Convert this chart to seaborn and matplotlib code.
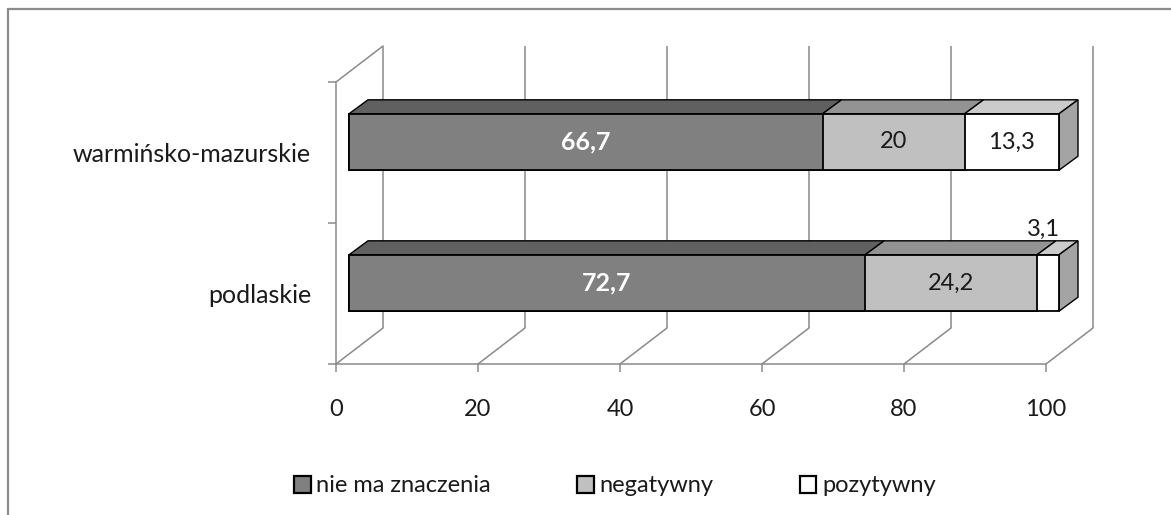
import matplotlib
matplotlib.use("Agg")
import matplotlib.pyplot as plt
import numpy as np
import pandas as pd
import seaborn as sns
from matplotlib.patches import Polygon, Patch
from matplotlib.lines import Line2D

# ---- data -------------------------------------------------------------
regions = ["warmińsko-mazurskie", "podlaskie"]
categories = ["nie ma znaczenia", "negatywny", "pozytywny"]
nie_ma_znaczenia = [66.7, 72.7]
negatywny = [20.0, 24.2]
pozytywny = [13.3, 3.1]
x_ticks = [0, 20, 40, 60, 80, 100]

# ---- style ------------------------------------------------------------
front_colors = ["#808080", "#c0c0c0", "#ffffff"]
top_colors = ["#606060", "#939393", "#cbcbcb"]
side_color = "#a4a4a4"
grid_color = "#8a8a8a"
text_color = "#1a1a1a"
FS_CAT = 18
FS_TICK = 17
FS_VAL = 17
FS_LEG = 17

W, H, DPI = 1171, 515, 100
sns.set_theme(style="white")
plt.rcParams["font.family"] = ["Lato", "DejaVu Sans"]

fig = plt.figure(figsize=(W / DPI, H / DPI), dpi=DPI)
# axes box = front edge of the floor / left wall (pixels)
L, R, T, B = 336, 1046, 82, 364
ax = fig.add_axes([L / W, 1 - B / H, (R - L) / W, (B - T) / H])

sx = (R - L) / 100.0      # px per x unit
sy = (B - T) / 2.0        # px per category band


def depth(px_right, px_up):
    """Pixel depth offset -> data offset (y axis is inverted)."""
    return px_right / sx, -px_up / sy


fx, fy = depth(13, 10.5)   # front face of bars
bx, by = depth(32, 24.5)   # back face of bars
wx, wy = depth(47, 36)     # back wall

df = pd.DataFrame({
    "region": regions,
    "nie ma znaczenia": nie_ma_znaczenia,
    "negatywny": negatywny,
    "pozytywny": pozytywny,
})
cum = df[categories].cumsum(axis=1)
df["c1"], df["c2"], df["c3"] = cum[categories[0]], cum[categories[1]], cum[categories[2]]

BAR_W = 0.40
for col, color in zip(["c3", "c2", "c1"], front_colors[::-1]):
    sns.barplot(data=df, x=col, y="region", order=regions, orient="h",
                color=color, saturation=1, width=BAR_W, edgecolor="black",
                linewidth=1.3, ax=ax, zorder=3)

# move front faces into the depth of the chart
for p in ax.patches:
    p.set_x(p.get_x() + fx)
    p.set_y(p.get_y() + fy)
    p.set_clip_on(False)

ax.set_xlim(0, 100)
ax.set_ylim(1.5, -0.5)

# top faces and end caps
for i, reg in enumerate(regions):
    starts = [0] + list(cum.iloc[i, :-1])
    ends = list(cum.iloc[i])
    yt = i - BAR_W / 2 + fy
    yb = i + BAR_W / 2 + fy
    for j in range(3):
        s, e = starts[j], ends[j]
        poly = Polygon([(s + fx, yt), (e + fx, yt), (e + bx, yt - fy + by),
                        (s + bx, yt - fy + by)], closed=True,
                       facecolor=top_colors[j], edgecolor="black",
                       linewidth=1.0, zorder=2.5, clip_on=False)
        ax.add_patch(poly)
    end = ends[-1]
    cap = Polygon([(end + fx, yt), (end + bx, yt - fy + by),
                   (end + bx, yb - fy + by), (end + fx, yb)], closed=True,
                  facecolor=side_color, edgecolor="black", linewidth=1.0,
                  zorder=2.5, clip_on=False)
    ax.add_patch(cap)

    # value labels
    for j in range(3):
        s, e = starts[j], ends[j]
        v = df[categories[j]].iloc[i]
        txt = ("%g" % v).replace(".", ",")
        cx = (s + e) / 2 + fx
        if j == 0:
            ax.text(cx, i + fy, txt, ha="center", va="center", color="white",
                    fontsize=FS_VAL + 1, fontweight="bold", zorder=5)
        elif e - s < 6:
            ax.annotate(txt, (cx, yt - fy + by), xytext=(-3, 1),
                        textcoords="offset points", ha="center", va="bottom",
                        fontsize=FS_VAL, color=text_color, zorder=5,
                        annotation_clip=False)
        else:
            ax.text(cx, i + fy, txt, ha="center", va="center",
                    color=text_color, fontsize=FS_VAL, zorder=5)

# back wall grid and floor lines
lw_grid = 1.1
for t in x_ticks:
    ax.plot([t + wx, t + wx], [1.5 + wy, -0.5 + wy], color=grid_color,
            lw=lw_grid, zorder=1, clip_on=False, solid_capstyle="butt")
    ax.plot([t, t + wx], [1.5, 1.5 + wy], color=grid_color, lw=lw_grid,
            zorder=1, clip_on=False)
ax.plot([0, wx], [-0.5, -0.5 + wy], color=grid_color, lw=lw_grid, zorder=1,
        clip_on=False)

# axes, ticks, labels
sns.despine(ax=ax, top=True, right=True)
for side in ("left", "bottom"):
    ax.spines[side].set_color(grid_color)
    ax.spines[side].set_linewidth(lw_grid)
ax.set_xticks(x_ticks)
ax.set_xticklabels([str(t) for t in x_ticks])
ax.set_yticks([0, 1])
ax.set_yticklabels(regions)
ax.set_yticks([-0.5, 0.5, 1.5], minor=True)
ax.tick_params(axis="x", direction="out", length=6, width=lw_grid,
               color=grid_color, pad=19, labelsize=FS_TICK,
               labelcolor=text_color, bottom=True)
ax.tick_params(axis="y", which="major", length=0, pad=18, labelsize=FS_CAT,
               labelcolor=text_color, left=True)
ax.tick_params(axis="y", which="minor", direction="out", length=6,
               width=lw_grid, color=grid_color, left=True)
ax.set_xlabel("")
ax.set_ylabel("")
ax.patch.set_alpha(0)

# legend
handles = [Patch(facecolor=c, edgecolor="black", linewidth=1.6)
           for c in front_colors]
fig.legend(handles, categories, ncol=3, loc="center left",
           bbox_to_anchor=(294 / W, 1 - 486 / H), frameon=False,
           fontsize=FS_LEG, handlelength=0.7, handleheight=0.7,
           handletextpad=0.25, columnspacing=3.65, borderpad=0,
           borderaxespad=0, labelcolor=text_color)

# chart frame
fig.add_artist(Line2D([8 / W, 1], [1 - 9 / H, 1 - 9 / H], color="#8c8c8c",
                      lw=1.6, transform=fig.transFigure))
fig.add_artist(Line2D([8 / W, 8 / W], [0, 1 - 9 / H], color="#8c8c8c",
                      lw=1.6, transform=fig.transFigure))

fig.savefig("out.png", dpi=DPI, facecolor="white")
